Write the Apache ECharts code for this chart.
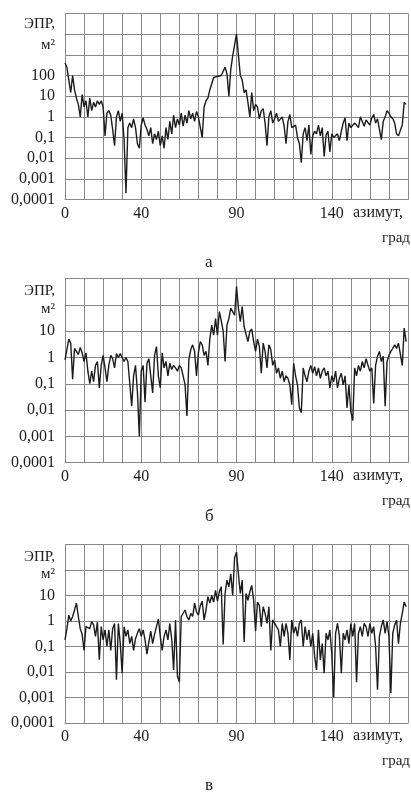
<!DOCTYPE html>
<html><head><meta charset="utf-8">
<script src="https://cdn.jsdelivr.net/npm/echarts@6/dist/echarts.min.js"></script>
<style>html,body{margin:0;padding:0;background:#fff}#c{width:411px;height:792px}</style>
</head><body><div id="c"></div>
<script>
// azimuth of first sample and step, degrees
const azimuthStart = 0;
const azimuthStep = 1;
// ЭПР, м² — panel а
const rcsA = [400,250,60,15,100,20,8,4,1,12,3,6,1,8,2,5,3,6,4,6,
3,0.12,1.5,2,1.2,0.25,0.04,1,2,0.6,1.5,0.08,0.0002,0.3,0.5,0.3,0.8,0.3,0.05,0.03,
0.4,0.9,0.4,0.25,0.12,0.3,0.05,0.15,0.08,0.2,0.04,0.12,0.03,0.3,0.08,0.6,0.15,1.2,0.3,0.8,
0.4,1.5,0.35,1.2,0.5,2,0.8,1.5,0.6,1.8,1,0.9,0.1,3,6,8,20,40,80,70,
90,80,100,90,250,120,10,200,900,3000,10000,1000,100,60,15,20,5,1,15,2,
4,3,0.8,2,2.5,0.5,0.04,1,2,0.5,0.8,1.5,0.6,0.5,1,0.35,0.05,0.6,1.3,0.3,
0.25,0.4,0.1,0.05,0.006,0.15,0.3,0.07,0.4,0.015,0.12,0.2,0.15,0.4,0.12,0.3,0.012,0.13,0.2,0.02,
0.15,0.1,0.12,0.15,0.07,0.2,0.5,0.9,0.07,0.5,0.3,0.35,0.5,0.4,0.3,1,0.6,0.35,0.7,0.8,
0.4,0.9,1.3,0.5,0.8,0.8,0.08,0.6,1,2,1.5,1,0.8,0.5,0.15,0.12,0.12,0.4,5,4];
// panel б
const rcsB = [0.8,2,5,3.5,0.15,2.2,2.6,1.3,2.4,1.5,0.7,1.5,0.3,0.1,0.3,0.12,0.5,0.7,0.07,0.5,
1.2,0.4,0.12,0.5,1.2,0.9,0.4,1.4,1,1.4,1.2,0.7,1,0.7,0.1,0.014,0.2,0.5,0.05,0.001,
0.3,0.5,0.02,0.6,0.9,0.2,0.045,1.2,2.6,0.2,0.07,1.5,0.4,0.7,0.2,0.6,0.35,0.5,0.4,0.3,
0.5,0.4,0.2,0.09,0.006,0.8,2,3,1.7,0.2,1.5,4,3,1.2,1.7,0.5,5,17,7,30,
7,55,25,10,0.7,17,30,75,85,40,500,75,23,85,15,17,4,10,12,4,
1.7,5,2.6,0.25,3.5,1.7,0.4,3,2,0.5,0.8,0.25,0.4,0.16,0.3,0.12,0.2,0.16,0.09,0.016,
0.6,0.2,0.09,0.012,0.008,0.4,0.2,0.12,0.3,0.5,0.25,0.45,0.2,0.4,0.16,0.3,0.4,0.2,0.3,0.07,
0.2,0.12,0.3,0.07,0.16,0.25,0.09,0.2,0.012,0.09,0.009,0.004,0.4,0.2,0.5,0.3,0.7,0.4,0.9,0.5,
0.3,0.4,0.018,0.5,1.1,1.7,0.7,1.1,0.014,0.7,1.2,1.7,2.2,3,2.2,3.5,3,0.5,13,4];
// panel в
const rcsC = [0.18,0.5,1.7,1,1.5,2.7,5,1.5,0.5,0.3,0.07,0.6,0.7,0.5,0.95,0.7,0.25,0.9,0.03,0.6,
0.18,0.45,0.1,0.45,0.07,0.5,0.8,0.005,0.8,0.13,0.009,0.6,0.25,0.45,0.13,0.25,0.07,0.2,0.33,0.5,
0.25,0.45,0.18,0.05,0.15,0.4,0.13,0.3,0.6,1.2,0.25,0.07,0.25,0.45,0.18,0.8,0.2,0.012,1.1,0.007,
0.004,1.5,1.5,2.7,1.5,1.1,2,1.5,5,2.3,1.7,4,6,1.1,2.7,9,5,10,5.5,16,
6,14,22,0.12,12,40,22,70,10,300,500,70,12,40,0.15,12,6.5,14,25,6.5,
0.4,5.5,4,0.6,3.6,2,0.8,3.6,0.07,1.1,0.8,0.6,0.45,0.1,0.8,0.25,0.8,0.33,0.03,1.1,
0.33,0.6,0.25,0.8,1.1,0.1,0.6,0.18,0.45,0.1,0.33,0.04,0.012,0.45,0.03,0.13,0.009,0.33,0.18,0.45,
0.05,0.001,0.33,0.8,0.25,0.009,0.33,0.18,0.45,0.13,0.8,0.25,0.8,0.004,0.33,0.6,0.25,0.8,0.6,0.25,
0.8,0.33,0.6,0.1,0.002,0.25,0.6,1.1,0.33,0.95,0.25,0.0015,0.33,0.7,1.1,0.13,0.8,2,5.5,3.6];
// tick labels
const xTickLabels = [0, 40, 90, 140];
const yTickExponents = [-4, -3, -2, -1, 0, 1, 2];
const yTickLabels = ["0,0001", "0,001", "0,01", "0,1", "1", "10", "100"];
const yMaxLabelled = [2, 1, 1];
const yAxisMax = [1e5, 1e3, 1e3];
const captions = ["а", "б", "в"];
const yName = ["ЭПР,", "м²"];
const xName = ["азимут,", "град"];

const series = [rcsA, rcsB, rcsC];
// layout (pixels)
const panels = [
  {top: 13.5, height: 186, cap: 263, n1: 25, n2: 46},
  {top: 278.5, height: 184.2, cap: 517, n1: 292, n2: 310},
  {top: 544.5, height: 178.5, cap: 786, n1: 558, n2: 575}
];
const FONT = "'Liberation Serif','Times New Roman',serif";
const INK = '#1c1c1c';
const GRIDC = '#888888';

const grids = [], xAxes = [], yAxes = [], ser = [], graphics = [];
panels.forEach((p, i) => {
  grids.push({left: 65, top: p.top, width: 347, height: p.height, containLabel: false});
  xAxes.push({
    type: 'value', gridIndex: i, min: 0, max: 180, interval: 10,
    axisLine: {show: true, lineStyle: {color: GRIDC, width: 1}},
    axisTick: {show: false},
    splitLine: {show: true, lineStyle: {color: GRIDC, width: 1}},
    axisLabel: {
      show: true, margin: 6, color: INK, fontFamily: FONT, fontSize: 16,
      formatter: v => xTickLabels.indexOf(v) >= 0 ? String(v) : ''
    }
  });
  yAxes.push({
    type: 'log', logBase: 10, gridIndex: i, min: 1e-4, max: yAxisMax[i], interval: 1,
    axisLine: {show: true, lineStyle: {color: GRIDC, width: 1}},
    axisTick: {show: false},
    splitLine: {show: true, lineStyle: {color: GRIDC, width: 1}},
    minorTick: {show: false},
    axisLabel: {
      show: true, margin: 10, color: INK, fontFamily: FONT, fontSize: 16,
      formatter: v => {
        const e = Math.round(Math.log10(v));
        if (e > yMaxLabelled[i]) return '';
        const k = yTickExponents.indexOf(e);
        return k >= 0 ? yTickLabels[k] : '';
      }
    }
  });
  ser.push({
    type: 'line', xAxisIndex: i, yAxisIndex: i, showSymbol: false, symbol: 'none',
    lineStyle: {color: INK, width: 1.4}, animation: false,
    data: series[i].map((v, k) => [azimuthStart + k * azimuthStep, v])
  });
  const bottom = p.top + p.height;
  graphics.push(
    {type: 'text', left: 353, top: bottom + 5, style: {text: xName[0], font: '16px ' + FONT, fill: INK}},
    {type: 'text', right: 1, top: bottom + 31, style: {text: xName[1], font: '15px ' + FONT, fill: INK}},
    {type: 'text', right: 356, top: p.n1 - 8, style: {text: yName[0], font: '15px ' + FONT, fill: INK}},
    {type: 'text', right: 356, top: p.n2 - 8, style: {text: yName[1], font: '15px ' + FONT, fill: INK}},
    {type: 'text', left: 205, top: p.cap - 9, style: {text: captions[i], font: '17px ' + FONT, fill: INK}}
  );
});

const chart = echarts.init(document.getElementById('c'), null, {renderer: 'canvas'});
chart.setOption({
  backgroundColor: '#ffffff',
  animation: false,
  grid: grids, xAxis: xAxes, yAxis: yAxes, series: ser, graphic: graphics
});
</script></body></html>
